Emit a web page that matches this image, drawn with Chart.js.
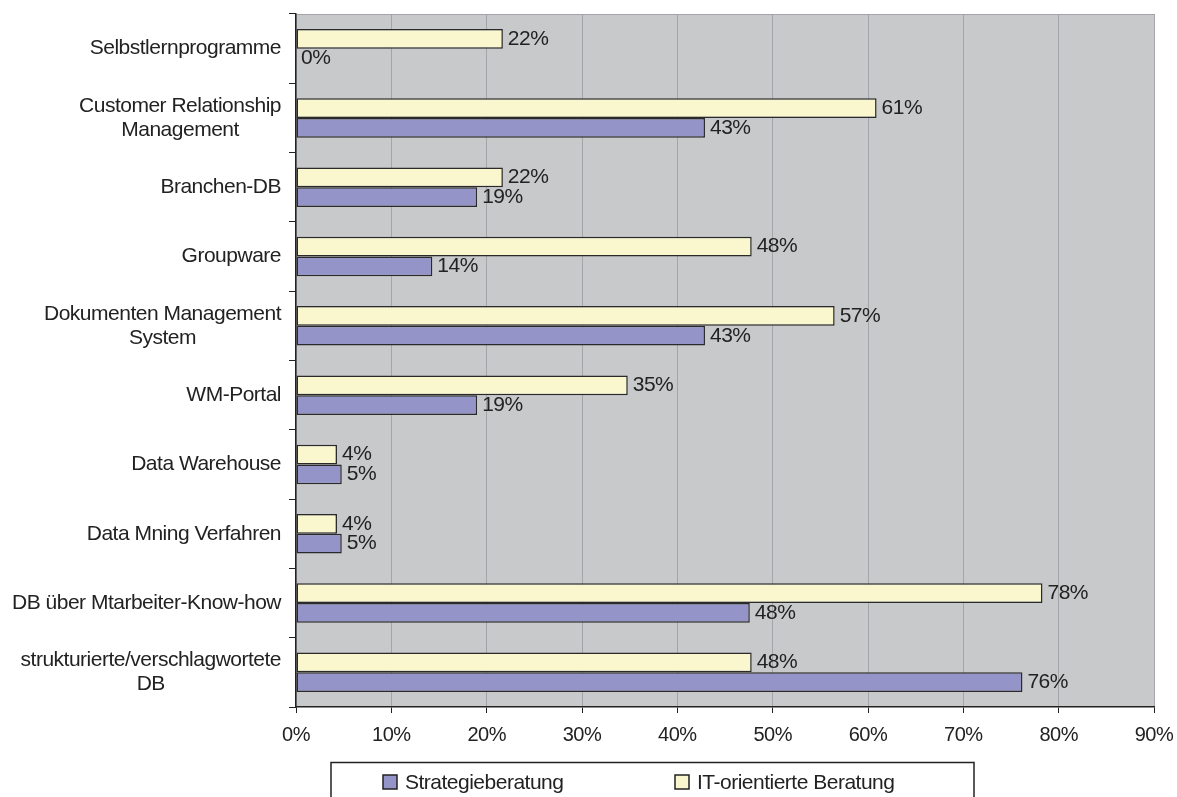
<!DOCTYPE html>
<html>
<head>
<meta charset="utf-8">
<script src="https://cdn.jsdelivr.net/npm/chart.js@4/dist/chart.umd.min.js"></script>
<style>
    html, body { margin: 0; padding: 0; background: #fff; }
</style>
</head>
<body>
<canvas id="chart" width="1177" height="797"></canvas>
<script>
// categories from top to bottom
var categories = [
    'Selbstlernprogramme',
    ['Customer Relationship', 'Management'],
    'Branchen-DB',
    'Groupware',
    ['Dokumenten Management', 'System'],
    'WM-Portal',
    'Data Warehouse',
    'Data Mning Verfahren',
    'DB über Mtarbeiter-Know-how',
    ['strukturierte/verschlagwortete', 'DB']
];

var itValues    = [21.7, 60.9, 21.7, 47.8, 56.5, 34.8, 4.3, 4.3, 78.3, 47.8];
var stratValues = [0,    42.9, 19.0, 14.3, 42.9, 19.0, 4.8, 4.8, 47.6, 76.2];

var seriesNames = ['IT-orientierte Beratung', 'Strategieberatung'];
var xTicks = [0, 10, 20, 30, 40, 50, 60, 70, 80, 90];

var FONT = '"Liberation Sans", Arial, sans-serif';
var TEXT = '#222';
var GRID = '#a4a5a8';

Chart.defaults.font.family = FONT;
Chart.defaults.color = TEXT;

// gray plot background
var plotBackground = {
    id: 'plotBackground',
    beforeDraw: function (chart) {
        var ctx = chart.ctx, a = chart.chartArea;
        ctx.letterSpacing = '-0.5px';
        ctx.save();
        ctx.fillStyle = '#c8c9cb';
        ctx.fillRect(a.left, a.top, a.right - a.left, a.bottom - a.top);
        ctx.strokeStyle = GRID;
        ctx.lineWidth = 1;
        ctx.beginPath();
        ctx.moveTo(a.left, a.top + 0.5);
        ctx.lineTo(a.right, a.top + 0.5);
        ctx.stroke();
        ctx.restore();
    }
};

// category labels: right aligned block, wrapped lines centred on each other
var categoryLabels = {
    id: 'categoryLabels',
    afterDraw: function (chart) {
        var ctx = chart.ctx;
        var scale = chart.scales.y;
        var right = scale.right - 15;
        var lineH = 24;
        ctx.save();
        ctx.font = '21px ' + FONT;
        ctx.fillStyle = TEXT;
        ctx.textAlign = 'center';
        ctx.textBaseline = 'middle';
        chart.data.labels.forEach(function (label, i) {
            var lines = Array.isArray(label) ? label : [label];
            var w = 0;
            lines.forEach(function (l) { w = Math.max(w, ctx.measureText(l).width); });
            var cx = right - w / 2;
            var y0 = scale.getPixelForTick(i) - (lines.length - 1) * lineH / 2;
            lines.forEach(function (l, k) {
                ctx.fillText(l, cx, y0 + k * lineH);
            });
        });
        ctx.restore();
    }
};

// value labels at the end of each bar
var barValues = {
    id: 'barValues',
    afterDatasetsDraw: function (chart) {
        var ctx = chart.ctx;
        ctx.save();
        ctx.font = '21px ' + FONT;
        ctx.fillStyle = TEXT;
        ctx.textAlign = 'left';
        ctx.textBaseline = 'middle';
        chart.data.datasets.forEach(function (ds, i) {
            chart.getDatasetMeta(i).data.forEach(function (bar, j) {
                ctx.fillText(Math.round(ds.data[j]) + '%', bar.x + 5, bar.y);
            });
        });
        ctx.restore();
    }
};

// framed legend below the axis
var boxLegend = {
    id: 'boxLegend',
    afterDraw: function (chart) {
        var ctx = chart.ctx;
        var items = chart.data.datasets.slice().reverse();
        var boxX = [383, 675];
        ctx.save();
        ctx.strokeStyle = '#222';
        ctx.lineWidth = 1.5;
        ctx.strokeRect(331, 762.5, 643, 60);
        ctx.font = '21px ' + FONT;
        ctx.textBaseline = 'middle';
        ctx.textAlign = 'left';
        items.forEach(function (ds, i) {
            ctx.fillStyle = ds.backgroundColor;
            ctx.fillRect(boxX[i], 775, 14, 14);
            ctx.strokeStyle = '#222';
            ctx.lineWidth = 1.5;
            ctx.strokeRect(boxX[i], 775, 14, 14);
            ctx.fillStyle = TEXT;
            ctx.fillText(ds.label, boxX[i] + 22, 783);
        });
        ctx.restore();
    }
};

var ctx = document.getElementById('chart');
var chart = new Chart(ctx, {
    type: 'bar',
    data: {
        labels: categories,
        datasets: [{
            label: seriesNames[0],
            data: itValues,
            backgroundColor: '#faf7cf',
            borderColor: '#2a2a2a',
            borderWidth: 1.5,
            borderSkipped: false,
            categoryPercentage: 0.57,
            barPercentage: 1.0
        }, {
            label: seriesNames[1],
            data: stratValues,
            backgroundColor: '#9594c8',
            borderColor: '#2a2a2a',
            borderWidth: 1.5,
            borderSkipped: false,
            categoryPercentage: 0.57,
            barPercentage: 1.0
        }]
    },
    plugins: [plotBackground, categoryLabels, barValues, boxLegend],
    options: {
        indexAxis: 'y',
        responsive: false,
        animation: false,
        layout: {
            padding: { top: 14, right: 23, bottom: 45, left: 0 }
        },
        plugins: {
            legend: { display: false },
            tooltip: { enabled: false }
        },
        scales: {
            x: {
                min: xTicks[0],
                max: xTicks[xTicks.length - 1],
                afterBuildTicks: function (scale) {
                    scale.ticks = xTicks.map(function (v) { return { value: v }; });
                },
                afterFit: function (scale) {
                    scale.height = 45;
                    scale.paddingLeft = 0;
                    scale.paddingRight = 0;
                },
                ticks: {
                    callback: function (v) { return v + '%'; },
                    color: TEXT,
                    font: { size: 20 },
                    padding: 10,
                    maxRotation: 0
                },
                grid: { color: GRID, lineWidth: 1, tickColor: '#222', tickLength: 6 },
                border: { color: '#222', width: 1.5 }
            },
            y: {
                afterFit: function (scale) {
                    scale.width = 296;
                    scale.paddingTop = 0;
                    scale.paddingBottom = 0;
                },
                ticks: {
                    color: 'rgba(0,0,0,0)',
                    font: { size: 21, lineHeight: 1.15 },
                    padding: 7,
                    autoSkip: false
                },
                grid: { drawOnChartArea: false, tickColor: '#222', tickLength: 7 },
                border: { color: '#222', width: 1.5 }
            }
        }
    }
});
</script>
</body>
</html>
